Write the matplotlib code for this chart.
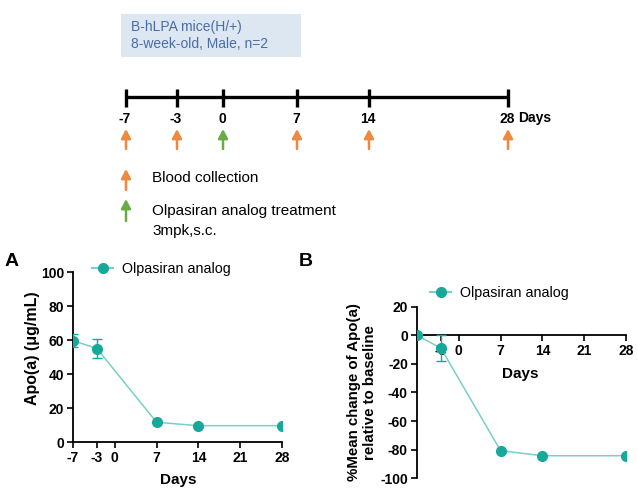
import matplotlib
matplotlib.use("Agg")
import matplotlib.pyplot as plt
from matplotlib.patches import Rectangle

plt.rcParams['font.family'] = ['Liberation Sans', 'DejaVu Sans']
plt.rcParams['axes.unicode_minus'] = False

# timeline schematic
tl_days = [-7, -3, 0, 7, 14, 28]
treat_day = 0
tl_pos = [126, 177, 223, 297, 369, 508]   # pixel positions in the schematic

# panel A: Apo(a) concentration
days = [-7, -3, 7, 14, 28]
apoa = [59.6, 55.0, 11.6, 9.6, 9.6]
apoa_err = [4.0, 5.4, 0.0, 0.0, 0.0]

# panel B: % change vs baseline
pct = [0.0, -9.0, -80.7, -84.2, -84.2]
pct_err = [0.0, 9.0, 0.0, 0.0, 0.0]

xticks = [-7, -3, 0, 7, 14, 21, 28]

ORANGE = '#ed8a3f'
GREEN = '#6aab48'
TEAL = '#17a89a'
TEAL_LINE = '#78d0c7'

fig = plt.figure(figsize=(6.38, 4.97), dpi=100)

# ---- schematic on a pixel-coordinate overlay
ax0 = fig.add_axes([0, 0, 1, 1])
ax0.set_xlim(0, 638)
ax0.set_ylim(497, 0)
ax0.axis('off')

ax0.add_patch(Rectangle((121, 14), 180, 43, facecolor='#dde7f2', edgecolor='none'))
ax0.text(131, 27, 'B-hLPA mice(H/+)', color='#4a6ca6', fontsize=10, va='center')
ax0.text(131, 43.5, '8-week-old, Male, n=2', color='#4a6ca6', fontsize=10, va='center')

arrow_kw = dict(arrowstyle='-|>,head_length=0.45,head_width=0.24',
                lw=1.8, shrinkA=0, shrinkB=0, mutation_scale=12)

ax0.plot([tl_pos[0], tl_pos[-1]], [96.5, 96.5], color='black', lw=2.4, solid_capstyle='butt')
for d, x in zip(tl_days, tl_pos):
    ax0.plot([x, x], [89, 107], color='black', lw=2.4, solid_capstyle='butt')
    ax0.text(x - 1, 119, str(d), fontsize=10, fontweight='bold', ha='center', va='center')
    col = GREEN if d == treat_day else ORANGE
    ax0.annotate('', xy=(x, 129), xytext=(x, 149), arrowprops=dict(color=col, **arrow_kw))
ax0.text(518, 118, 'Days', fontsize=10, fontweight='bold', va='center')

ax0.annotate('', xy=(126, 169), xytext=(126, 190), arrowprops=dict(color=ORANGE, **arrow_kw))
ax0.annotate('', xy=(126, 199), xytext=(126, 221), arrowprops=dict(color=GREEN, **arrow_kw))
ax0.text(152, 178, 'Blood collection', fontsize=11, va='center')
ax0.text(152, 211.5, 'Olpasiran analog treatment', fontsize=11, va='center')
ax0.text(152, 230.5, '3mpk,s.c.', fontsize=11, va='center')

ax0.text(5, 262, 'A', fontsize=14, fontweight='bold', va='center')
ax0.text(299, 262, 'B', fontsize=14, fontweight='bold', va='center')


def style(ax):
    for s in ['top', 'right']:
        ax.spines[s].set_visible(False)
    for s in ['left', 'bottom']:
        ax.spines[s].set_linewidth(1.3)
    ax.tick_params(width=1.2, length=4.5, labelsize=10, pad=2)
    for lab in ax.get_xticklabels() + ax.get_yticklabels():
        lab.set_fontweight('bold')


def draw(ax, y, yerr):
    ax.plot(days, y, color=TEAL_LINE, lw=1.1, zorder=2)
    ax.errorbar(days, y, yerr=yerr, fmt='o', color=TEAL, ms=7, ecolor=TEAL,
                elinewidth=1.0, capsize=3.5, capthick=1.0, zorder=3)


def add_legend(ax, x, y):
    h, = ax.plot([], [], '-o', color=TEAL_LINE, ms=7, mfc=TEAL, mec=TEAL)
    ax.legend(handles=[h], labels=['Olpasiran analog'], loc='center left',
              bbox_to_anchor=(x / 638, 1 - y / 497), bbox_transform=fig.transFigure,
              frameon=False, fontsize=10.3, borderpad=0, borderaxespad=0,
              handlelength=1.5, handletextpad=0.6)


# ---- panel A
axA = fig.add_axes([73 / 638, 1 - 442 / 497, 209 / 638, 170 / 497])
draw(axA, apoa, apoa_err)
axA.set_xlim(-7, 28)
axA.set_ylim(0, 100)
axA.set_xticks(xticks)
axA.set_yticks(range(0, 101, 20))
axA.set_xticklabels([str(t) for t in xticks])
style(axA)
axA.set_ylabel('Apo(a) (μg/mL)', fontsize=11.5, fontweight='bold')
axA.yaxis.label.set_va('center')
axA.yaxis.set_label_coords(-0.196, 0.55)
axA.set_xlabel('Days', fontsize=11, fontweight='bold')
axA.xaxis.label.set_va('center')
axA.xaxis.set_label_coords(0.502, -0.224)
add_legend(axA, 92, 269)

# ---- panel B
axB = fig.add_axes([417 / 638, 1 - 478.3 / 497, 209 / 638, 171.6 / 497])
draw(axB, pct, pct_err)
axB.set_xlim(-7, 28)
axB.set_ylim(-100, 20)
axB.spines['bottom'].set_position(('data', 0))
axB.set_xticks(xticks)
axB.set_xticklabels([''] + [str(t) for t in xticks[1:]])
axB.set_yticks(range(-100, 21, 20))
style(axB)
axB.set_ylabel('%Mean change of Apo(a)\nrelative to baseline', fontsize=10.8, fontweight='bold',
               linespacing=1.1)
axB.yaxis.label.set_va('center')
axB.yaxis.set_label_coords(-0.263, 0.5)
axB.text(0.496, 0.607, 'Days', transform=axB.transAxes, fontsize=11, fontweight='bold',
         ha='center', va='center')
add_legend(axB, 430, 293)

fig.savefig('out.png', dpi=100)
